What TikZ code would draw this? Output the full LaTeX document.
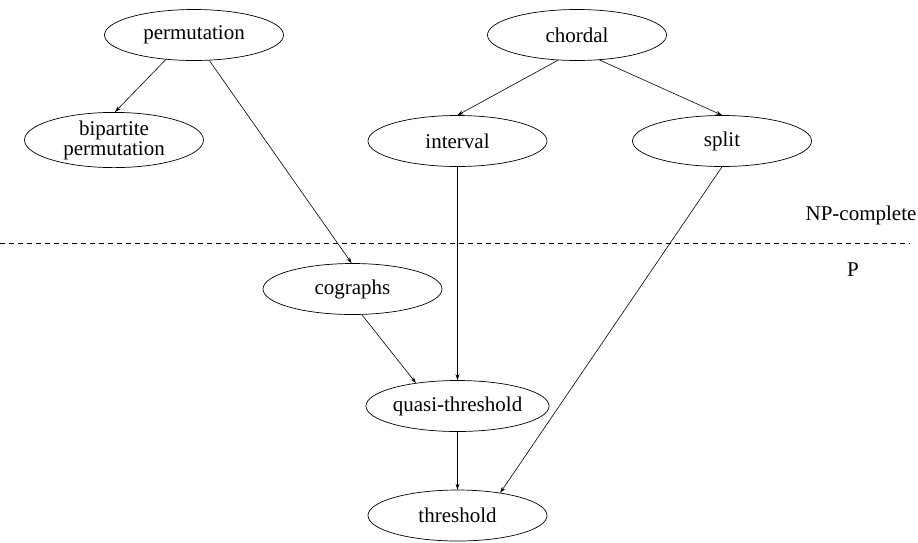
\documentclass[tikz,border=0pt]{standalone}
\usepackage{fontspec}
\setmainfont{Liberation Serif}
\newfontfamily\tms{Liberation Serif}
\usetikzlibrary{shapes.geometric,arrows.meta}
\begin{document}
\begin{tikzpicture}[x=1pt,y=-1pt,
  cls/.style={ellipse,draw,line width=0.7pt,minimum width=179pt,minimum height=51pt,inner sep=0pt,
    font=\tms\fontsize{21}{22}\selectfont,align=center},
  lbl/.style={font=\tms\fontsize{21}{22}\selectfont,inner sep=0pt},
  edge/.style={line width=0.6pt,-{Stealth[length=6pt,width=4pt]}}]
\useasboundingbox (0,0) rectangle (918,542);
\node[cls] (perm) at (194,35) {permutation};
\node[cls] (bip) at (114,140) {bipartite\\[-2pt]permutation};
\node[cls] (chord) at (577,35) {chordal};
\node[cls] (int) at (457.5,141) {interval};
\node[cls] (split) at (722,141) {split};
\node[cls] (cog) at (352.5,289) {cographs};
\node[cls] (quasi) at (457.5,406) {quasi-threshold};
\node[cls] (thr) at (457.5,515.5) {threshold};
\coordinate (dl) at (0,243);
\coordinate (dr) at (910,243);
\draw[line width=0.6pt,dash pattern=on 5pt off 4pt] (dl) -- (dr);
\node[lbl] (np) at (861,215) {NP-complete};
\node[lbl] (p) at (853,270) {P};
\draw[edge] (perm.221) -- (bip.88);
\draw[edge] (perm.301) -- (cog.92);
\draw[edge] (chord.233) -- (int.north);
\draw[edge] (chord.312) -- (split.north);
\draw[edge] (int.south) -- (quasi.north);
\draw[edge] (split.south) -- (thr.28);
\draw[edge] (cog.290) -- (quasi.151);
\draw[edge] (quasi.south) -- (thr.north);
\end{tikzpicture}
\end{document}
